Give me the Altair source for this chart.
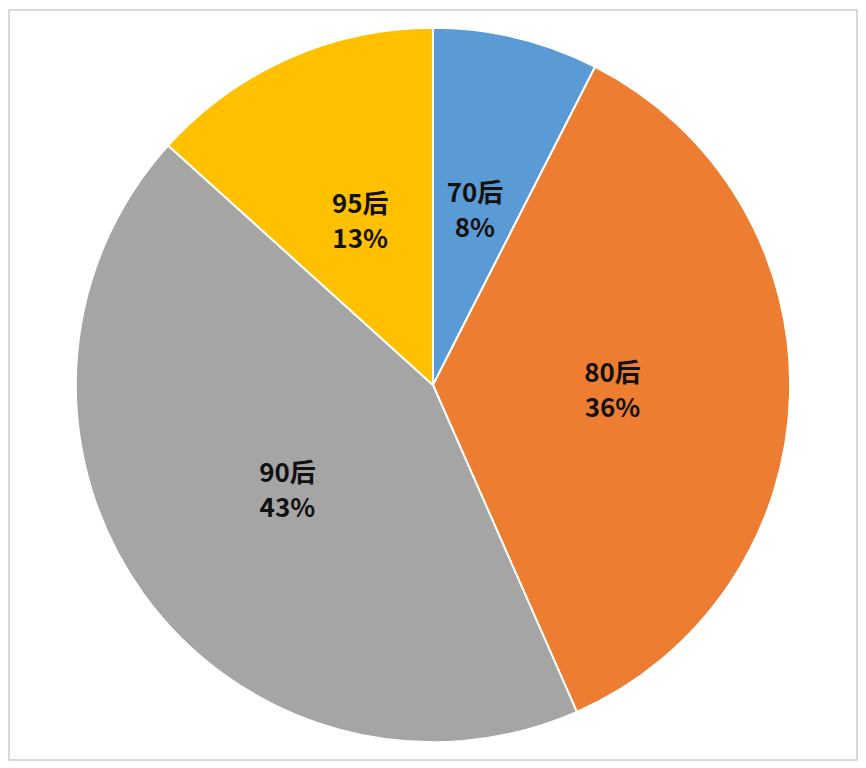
import altair as alt
import pandas as pd

categories = ["70后", "80后", "90后", "95后"]
values = [7.5, 35.9, 43.3, 13.3]
pct_labels = ["8%", "36%", "43%", "13%"]
colors = ["#5B9BD5", "#ED7D31", "#A5A5A5", "#FFC000"]

df = pd.DataFrame({
    "cat": categories,
    "value": values,
    "pct": pct_labels,
    "idx": list(range(len(categories))),
})
df["label"] = df["cat"] + "\n" + df["pct"]

base = alt.Chart(df).encode(
    theta=alt.Theta("value:Q", stack=True),
    order=alt.Order("idx:Q"),
)

pie = base.mark_arc(outerRadius=358, stroke="white", strokeWidth=2).encode(
    color=alt.Color("cat:N", scale=alt.Scale(domain=categories, range=colors), legend=None)
)

text = base.mark_text(
    radius=180, fontSize=26, fontWeight="bold", font="Noto Sans CJK SC",
    color="#111111", lineBreak="\n", lineHeight=35, baseline="middle", align="center",
    dy=-16
).encode(text="label:N")

border = alt.Chart(pd.DataFrame({"a": [0]})).mark_rect(
    fill=None, stroke="#D9D9D9", strokeWidth=2
).encode(x=alt.value(0), x2=alt.value(850), y=alt.value(0), y2=alt.value(752))

chart = (border + pie + text).properties(width=850, height=752, padding=0).configure_view(
    strokeWidth=0
).configure(background="white")

chart.save("out.html", embed_options={"renderer": "svg", "actions": False})
